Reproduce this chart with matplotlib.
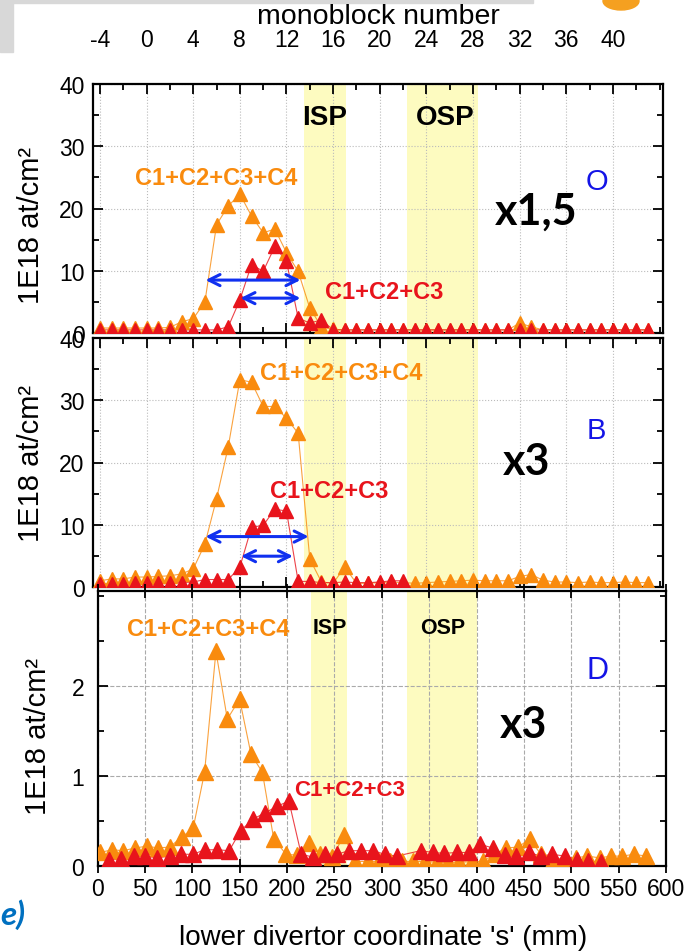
import matplotlib.pyplot as plt
from matplotlib.ticker import MultipleLocator
from matplotlib.patches import Rectangle, Ellipse

plt.rcParams['font.family'] = ['Liberation Sans', 'DejaVu Sans']
plt.rcParams['axes.unicode_minus'] = False

W, H = 687, 953
ORANGE = '#F98B0E'
RED = '#E8141C'
BLUE_ARROW = '#1030F0'
BAND = '#FDFBC0'

# --- panels O and B: x = monoblock number ---
mono = list(range(-4, 44))
o_total = [0.8, 0.8, 0.8, 0.8, 0.8, 0.8, 0.9,
           1.8, 2.3, 5.0, 17.4, 20.4, 22.3, 18.8, 16.1, 16.7, 12.9, 9.9, 4.0, 1.0, 0.6,
           0.5, 0.5, 0.5, 0.5, 0.5, 0.5, 0.5, 0.5, 0.5, 0.5, 0.5, 0.5, 0.5, 0.5, 0.5,
           1.6, 1.0,
           0.5, 0.5, 0.5, 0.5, 0.5, 0.5, 0.5, 0.5, 0.5, 0.5]
o_c123 = [0.5, 0.5, 0.5, 0.5, 0.5, 0.5, 0.5, 0.5, 0.5, 0.5, 0.5,
          1.0, 5.3, 11.0, 9.9, 13.9, 11.5, 2.4, 1.6, 2.1,
          0.5, 0.5, 0.5, 0.5, 0.5, 0.5, 0.5, 0.5, 0.5, 0.5, 0.5, 0.5, 0.5, 0.5,
          0.5, 0.5, 0.5, 0.5, 0.5, 0.5, 0.5, 0.5, 0.5, 0.5, 0.5, 0.5, 0.5, 0.5]

b_total = [1.0, 1.3, 1.3, 1.6, 1.6, 1.7, 1.8, 2.1, 2.9, 6.9,
           14.2, 22.5, 33.3, 32.9, 29.0, 29.0, 27.1, 24.7, 4.5, 0.8,
           0.6, 3.2, 0.6, 0.6, 0.7, 0.8, 0.7, 0.6, 0.7, 0.8,
           0.9, 1.0, 1.1, 1.0, 1.0, 1.0, 1.7, 2.0, 1.1, 0.8,
           0.8, 0.7, 0.8, 0.7, 0.7, 0.8, 0.7, 0.7]
b_mono_red = list(range(-4, 23))
b_c123 = [0.5, 0.5, 0.5, 0.6, 0.6, 0.6, 0.7, 0.7, 0.8, 1.2,
          1.2, 1.2, 3.2, 9.6, 9.9, 12.5, 12.2, 0.9, 0.9, 0.7,
          0.7, 0.8, 0.7, 0.7, 0.8, 1.0, 1.0]

# --- panel D: x = lower divertor coordinate s (mm) ---
d_s_total = [3, 15, 27, 40, 52, 64, 76, 89, 101, 113, 125, 137, 150, 162, 174, 186,
             199, 211, 223, 235, 248, 260, 272, 285, 297, 309, 321, 333, 346, 358,
             370, 382, 395, 407, 419, 431, 444, 456, 468, 481, 493, 505, 517, 530,
             542, 554, 566, 579]
d_total = [0.15, 0.18, 0.17, 0.20, 0.22, 0.20, 0.21, 0.32, 0.42, 1.04,
           2.38, 1.63, 1.85, 1.24, 1.04, 0.30, 0.13, 0.12, 0.25, 0.13,
           0.10, 0.34, 0.05, 0.05, 0.05, 0.05, 0.05, 0.05, 0.05, 0.04,
           0.04, 0.04, 0.05, 0.05, 0.13, 0.20, 0.21, 0.30, 0.13, 0.07,
           0.09, 0.09, 0.11, 0.09, 0.11, 0.11, 0.13, 0.11]
d_s_c123 = [12, 25, 38, 50, 63, 76, 88, 101, 113, 126, 139, 151, 164, 177, 189, 202,
            215, 227, 240, 253, 265, 278, 291, 303, 316, 341, 354, 366, 379, 392,
            404, 417, 430, 442, 455, 468, 480, 493, 506, 518, 531]
d_c123 = [0.07, 0.08, 0.11, 0.11, 0.09, 0.11, 0.13, 0.13, 0.18, 0.18,
          0.17, 0.39, 0.52, 0.59, 0.66, 0.72, 0.13, 0.10, 0.13, 0.13,
          0.17, 0.17, 0.17, 0.13, 0.11, 0.17, 0.15, 0.14, 0.15, 0.15,
          0.24, 0.20, 0.12, 0.11, 0.15, 0.11, 0.13, 0.11, 0.07, 0.06, 0.04]

mono_ticks = [-4, 0, 4, 8, 12, 16, 20, 24, 28, 32, 36, 40]

TICK_FS = 16.5


def box(l, t, r, b):
    return [l / W, 1 - b / H, (r - l) / W, (b - t) / H]


fig = plt.figure(figsize=(W / 100, H / 100), dpi=100)

# slide background bits
fig.patches.append(Rectangle((0, 1 - 53 / H), 13 / W, 53 / H, transform=fig.transFigure,
                             color='#D8D8D8', zorder=0))
fig.patches.append(Rectangle((0, 1 - 4 / H), 533 / W, 4 / H, transform=fig.transFigure,
                             color='#D8D8D8', zorder=0))
fig.patches.append(Ellipse((621 / W, 1 - 2 / H), 36 / W, 18 / H, transform=fig.transFigure,
                           color='#F5A020', zorder=0))

ax1 = fig.add_axes(box(93, 85, 663, 334))
ax2 = fig.add_axes(box(93, 339, 663, 588))
ax3 = fig.add_axes(box(97.5, 592, 666, 867))


def style_mono(ax, top_labels):
    ax.set_xlim(-4.6, 44.3)
    ax.set_ylim(0, 40)
    ax.axvspan(13.46, 17.07, color=BAND, zorder=0, lw=0)
    ax.axvspan(22.3, 28.4, color=BAND, zorder=0, lw=0)
    ax.set_axisbelow(True)
    ax.grid(True, color='#BBBBBB', linestyle=':', linewidth=0.8)
    ax.set_xticks(mono_ticks)
    ax.xaxis.set_minor_locator(MultipleLocator(2))
    ax.yaxis.set_major_locator(MultipleLocator(10))
    ax.yaxis.set_minor_locator(MultipleLocator(5))
    ax.tick_params(which='both', direction='in', top=True, bottom=True, left=True, right=True,
                   width=1.3, labelsize=TICK_FS)
    ax.tick_params(which='major', length=7)
    ax.tick_params(which='minor', length=4)
    ax.tick_params(axis='x', labelbottom=False, labeltop=top_labels, pad=23.5)
    ax.tick_params(axis='y', pad=6)
    for sp in ax.spines.values():
        sp.set_linewidth(1.6)


def plot_series(ax, x, y, color, ms):
    ax.plot(x, y, color=color, lw=0.8, alpha=0.8, zorder=2)
    ax.plot(x, y, linestyle='none', marker='^', ms=ms, color=color, mec=color, zorder=3)


def arrow(ax, x0, x1, y):
    ax.annotate('', xy=(x1, y), xytext=(x0, y),
                arrowprops=dict(arrowstyle='<->', color=BLUE_ARROW, lw=2.2, mutation_scale=20,
                                shrinkA=0, shrinkB=0))


# ---- panel O ----
style_mono(ax1, True)
plot_series(ax1, mono, o_total, ORANGE, 10)
plot_series(ax1, mono, o_c123, RED, 10)
ax1.text(6.0, 25.0, 'C1+C2+C3+C4', color=ORANGE, fontsize=17, fontweight='bold', ha='center', va='center')
ax1.text(20.4, 6.6, 'C1+C2+C3', color=RED, fontsize=17, fontweight='bold', ha='center', va='center')
ax1.text(15.3, 34.7, 'ISP', color='black', fontsize=20, fontweight='bold', ha='center', va='center')
ax1.text(25.6, 34.7, 'OSP', color='black', fontsize=20, fontweight='bold', ha='center', va='center')
ax1.text(33.4, 19.7, 'x1,5', color='black', fontsize=31, fontweight='bold', ha='center', va='center',
         family=['Lato', 'DejaVu Sans'])
ax1.text(38.6, 24.4, 'O', color='#1414E6', fontsize=21, ha='center', va='center')
arrow(ax1, 5.05, 13.2, 8.5)
arrow(ax1, 8.05, 13.2, 5.6)

# ---- panel B ----
style_mono(ax2, False)
plot_series(ax2, mono, b_total, ORANGE, 10)
plot_series(ax2, b_mono_red, b_c123, RED, 10)
ax2.text(16.7, 34.4, 'C1+C2+C3+C4', color=ORANGE, fontsize=17, fontweight='bold', ha='center', va='center')
ax2.text(15.7, 15.5, 'C1+C2+C3', color=RED, fontsize=17, fontweight='bold', ha='center', va='center')
ax2.text(32.6, 20.2, 'x3', color='black', fontsize=31, fontweight='bold', ha='center', va='center',
         family=['Lato', 'DejaVu Sans'])
ax2.text(38.6, 25.2, 'B', color='#1414E6', fontsize=21, ha='center', va='center')
arrow(ax2, 5.05, 13.9, 8.1)
arrow(ax2, 8.1, 12.55, 4.95)

# ---- panel D ----
ax3.set_xlim(0, 600)
ax3.set_ylim(0, 3.05)
ax3.axvspan(225, 263, color=BAND, zorder=0, lw=0)
ax3.axvspan(327, 401, color=BAND, zorder=0, lw=0)
ax3.set_axisbelow(True)
ax3.grid(True, color='#AAAAAA', linestyle='--', linewidth=0.8)
ax3.xaxis.set_major_locator(MultipleLocator(50))
ax3.set_yticks([0, 1, 2])
ax3.yaxis.set_minor_locator(MultipleLocator(0.5))
ax3.tick_params(axis='x', which='both', direction='inout', top=True, length=10, width=1.3,
                labelsize=TICK_FS, pad=3)
ax3.tick_params(axis='y', which='both', direction='in', left=True, right=True, width=1.3,
                labelsize=TICK_FS, pad=9.5)
ax3.tick_params(axis='y', which='major', length=7)
ax3.tick_params(axis='y', which='minor', length=4)
for sp in ax3.spines.values():
    sp.set_linewidth(1.6)
plot_series(ax3, d_s_total, d_total, ORANGE, 11)
plot_series(ax3, d_s_c123, d_c123, RED, 11)
ax3.text(117, 2.63, 'C1+C2+C3+C4', color=ORANGE, fontsize=17, fontweight='bold', ha='center', va='center')
ax3.text(266, 0.85, 'C1+C2+C3', color=RED, fontsize=16, fontweight='bold', ha='center', va='center')
ax3.text(245, 2.65, 'ISP', color='black', fontsize=15.5, fontweight='bold', ha='center', va='center')
ax3.text(364, 2.65, 'OSP', color='black', fontsize=15.5, fontweight='bold', ha='center', va='center')
ax3.text(450, 1.57, 'x3', color='black', fontsize=31, fontweight='bold', ha='center', va='center',
         family=['Lato', 'DejaVu Sans'])
ax3.text(528, 2.17, 'D', color='#1414E6', fontsize=22, ha='center', va='center')

# axis titles
fig.text(378 / W, 1 - 17 / H, 'monoblock number', fontsize=20.5, ha='center', va='center')
fig.text(383 / W, 1 - 938 / H, "lower divertor coordinate 's' (mm)", fontsize=20, ha='center', va='center')
for yc, xc in [(226, 31), (463, 31), (737, 38)]:
    fig.text(xc / W, 1 - yc / H, '1E18 at/cm\u00b2', fontsize=21, rotation=90, ha='center', va='center')
fig.text(25 / W, 1 - 915 / H, 'e)', color='#0070C0', fontsize=24, fontweight='bold', style='italic',
         ha='right', va='center', family=['Lato', 'DejaVu Sans'])

fig.savefig('out.png', dpi=100)
